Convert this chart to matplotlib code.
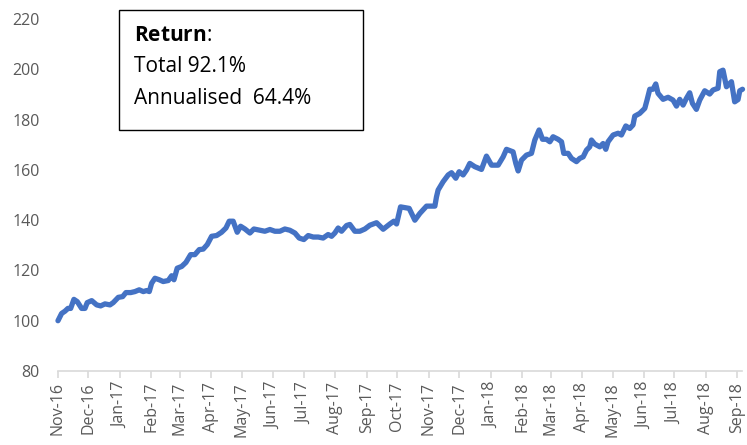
import matplotlib
matplotlib.use("Agg")
import matplotlib.pyplot as plt
import matplotlib.dates as mdates
from matplotlib.patches import Rectangle
import pandas as pd

plt.rcParams["mathtext.fontset"] = "custom"
plt.rcParams["mathtext.bf"] = "Open Sans:bold"
plt.rcParams["mathtext.rm"] = "Open Sans"

# days since 1 Nov 2016 and index level (start = 100)
days = [0, 3.6, 6.9, 9.8, 12.5, 15.7, 19, 23.3, 26.6, 28.8, 33.2, 38.1, 42, 46.3, 51.2,
        54.4, 59.4, 63.7, 66.9, 71.6, 75.8, 80, 84, 87.3, 89.9, 92.2, 95.5, 99.7, 103.6,
        108.6, 111.9, 114.2, 117.4, 121.8, 126, 130.6, 134.8, 139.1, 143, 147, 151.3,
        156.2, 161.1, 165.4, 168.6, 172.5, 176.5, 179.8, 184.1, 189, 192.9, 198.8, 203.7,
        208.7, 213.6, 218.5, 223.4, 228.3, 233.3, 237.5, 242.1, 246.4, 251.3, 256.2,
        261.1, 266, 269.4, 272.6, 275.9, 279.2, 284.2, 287.4, 292.3, 297.2, 302.2, 307.1,
        313.7, 320.2, 326.8, 330.7, 333.4, 337.3, 345.8, 351.4, 356.3, 362.9, 371.1,
        372.7, 374.3, 379.2, 384.2, 387.5, 391.7, 395, 398.9, 402.3, 405.5, 410.4, 417,
        421.9, 426.9, 433.4, 438.3, 441.6, 448.1, 450.8, 453.1, 456.4, 461.3, 466.2,
        469.5, 473.7, 477.1, 481, 484.3, 487.5, 492.4, 495.8, 498, 502.3, 505.6, 510.5,
        513.8, 517.1, 520.4, 523.6, 525.3, 528.5, 533.5, 536.7, 539.4, 541.6, 546.6,
        551.5, 554.8, 559.1, 563, 566.2, 567.9, 572.8, 577.8, 580, 582.7, 585.9, 588.6,
        590.8, 595.8, 600.7, 605.6, 609, 612.2, 615.5, 618.8, 622, 624.7, 628.6, 631.9,
        636.8, 641.7, 645, 649.9, 651.6, 654.8, 658.2, 663.1, 666.3, 669.6, 671.3, 674]
values = [100, 102.9, 103.8, 104.9, 104.9, 108.5, 107.6, 104.9, 104.9, 107.2, 108, 106.3,
          105.9, 106.7, 106.3, 107.2, 109.3, 109.6, 111.2, 111.2, 111.6, 112.3, 111.6, 112,
          111.6, 114.9, 116.9, 116.3, 115.6, 116, 117.9, 116.3, 120.9, 121.6, 123.2, 126.3,
          126.3, 128.3, 128.5, 130.3, 133.6, 133.9, 135.2, 136.9, 139.6, 139.6, 135.2,
          137.6, 136.5, 134.9, 136.5, 136, 135.6, 136.3, 135.6, 135.6, 136.5, 136, 134.9,
          132.9, 132.3, 133.9, 133.3, 133.3, 132.9, 134.3, 133.6, 134.9, 136.9, 135.6,
          137.9, 138.3, 135.6, 135.6, 136.5, 138, 139, 136.4, 138.5, 139.6, 138.5, 145.3,
          144.7, 140, 142.7, 145.6, 145.6, 149.3, 152, 155.3, 158, 158.9, 156.7, 159.3, 158,
          160, 162.6, 161.3, 160.2, 165.5, 161.9, 161.9, 165.2, 168.2, 167.2, 162.6, 159.6,
          163.9, 165.9, 166.6, 171.9, 175.9, 172.2, 172.2, 171.2, 173.2, 172.2, 171.2,
          166.6, 166.6, 164.6, 163.3, 164.6, 165.2, 167.9, 169.2, 171.9, 170.3, 169.2,
          170.5, 168.2, 171.2, 173.9, 174.6, 173.9, 177.5, 176.5, 177.9, 181.4, 182.5,
          184.5, 187.8, 192.1, 192.1, 194.2, 190.5, 188.1, 188.9, 187.8, 185.4, 188.1,
          185.8, 188.5, 190.7, 186.5, 184.1, 187.8, 191.5, 190.2, 191.8, 192.5, 199.1,
          199.7, 193.1, 195.1, 187.1, 188, 191.5, 192.1]

box_lines = [r"$\bf{Return}$:", "Total 92.1%", "Annualised  64.4%"]

start = pd.Timestamp("2016-11-01")
dates = start + pd.to_timedelta(days, unit="D")

fig = plt.figure(figsize=(7.47, 4.45), dpi=100)
ax = fig.add_axes([0.0776, 0.1663, 0.9157, 0.7907])

ax.plot(dates, values, color="#4472C4", lw=3.8, solid_capstyle="round",
        solid_joinstyle="round", clip_on=False)

ax.set_ylim(80, 220)
ax.set_yticks(range(80, 221, 20))
ax.set_xlim(start, start + pd.Timedelta(days=673.5))

ax.xaxis.set_major_locator(mdates.MonthLocator())
ax.xaxis.set_major_formatter(mdates.DateFormatter("%b-%y"))

for s in ["top", "right", "left"]:
    ax.spines[s].set_visible(False)
ax.spines["bottom"].set_color("#d9d9d9")
ax.spines["bottom"].set_linewidth(1.2)

ax.tick_params(axis="y", length=0, pad=13, labelsize=11.5, labelcolor="#595959")
ax.tick_params(axis="x", length=5, width=1.2, color="#d9d9d9", pad=3,
               labelsize=11.5, labelcolor="#595959", labelrotation=90)
for lab in ax.get_xticklabels() + ax.get_yticklabels():
    lab.set_fontfamily("Open Sans")

# return box
fig.patches.append(Rectangle((0.1593, 0.7079), 0.3266, 0.2697, transform=fig.transFigure,
                             fc="white", ec="black", lw=1.0, zorder=5))
for i, line in enumerate(box_lines):
    fig.text(0.1794, 0.9079 - i * 0.0708, line, ha="left", va="baseline", fontsize=15,
             fontfamily="Open Sans", color="black", zorder=6)

plt.savefig("out.png", dpi=100)
